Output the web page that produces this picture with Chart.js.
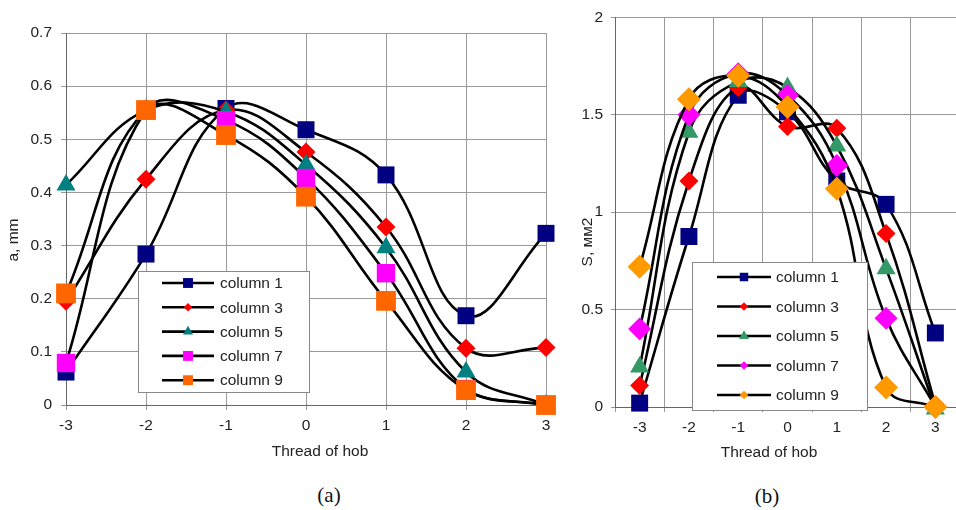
<!DOCTYPE html>
<html>
<head>
<meta charset="utf-8">
<script src="https://cdn.jsdelivr.net/npm/chart.js@4/dist/chart.umd.min.js"></script>
<style>
  body { margin: 0; width: 956px; height: 510px; overflow: hidden; background: #fff; position: relative; }
  canvas { position: absolute; top: 0; }
  #chartA { left: 0; }
  #chartB { left: 560px; }
  .cap { position: absolute; font-family: "Liberation Serif", serif; font-size: 21px; color: #111; transform: translate(-50%, -50%); }
</style>
</head>
<body>
<canvas id="chartA" width="560" height="470"></canvas>
<canvas id="chartB" width="412" height="470"></canvas>
<div class="cap" style="left:329px; top:495px">(a)</div>
<div class="cap" style="left:767px; top:496px">(b)</div>
<script>
// thread positions on the x axis
const threads = [-3, -2, -1, 0, 1, 2, 3];
const seriesNames = ['column 1', 'column 3', 'column 5', 'column 7', 'column 9'];

// (a) a, mm
const aCol1 = [0.062, 0.284, 0.558, 0.518, 0.433, 0.168, 0.323];
const aCol3 = [0.195, 0.425, 0.555, 0.476, 0.335, 0.107, 0.108];
const aCol5 = [0.414, 0.555, 0.552, 0.452, 0.296, 0.062, 0];
const aCol7 = [0.079, 0.555, 0.536, 0.427, 0.248, 0.030, 0];
const aCol9 = [0.210, 0.555, 0.508, 0.392, 0.196, 0.028, 0];

// (b) S, mm2
const bCol1 = [0.02, 0.875, 1.60, 1.515, 1.16, 1.04, 0.38];
const bCol3 = [0.11, 1.16, 1.64, 1.44, 1.43, 0.89, 0.01];
const bCol5 = [0.205, 1.41, 1.67, 1.64, 1.34, 0.71, -0.01];
const bCol7 = [0.40, 1.50, 1.71, 1.60, 1.24, 0.455, 0];
const bCol9 = [0.72, 1.58, 1.70, 1.54, 1.12, 0.10, 0];

const FONT = '"Liberation Sans", Arial, sans-serif';
Chart.defaults.font.family = FONT;
Chart.defaults.font.size = 15.5;
Chart.defaults.color = '#222';

function pts(vals) {
  return threads.map((x, i) => ({ x: x, y: vals[i] }));
}

function marker(ctx, style, x, y, r, color) {
  ctx.fillStyle = color;
  ctx.beginPath();
  if (style === 'rect') {
    const s = r * Math.SQRT1_2;
    ctx.rect(x - s, y - s, 2 * s, 2 * s);
  } else if (style === 'rectRot') {
    ctx.moveTo(x, y - r); ctx.lineTo(x + r, y); ctx.lineTo(x, y + r); ctx.lineTo(x - r, y);
    ctx.closePath();
  } else {
    for (let k = 0; k < 3; k++) {
      const a = k * 2 * Math.PI / 3;
      ctx[k ? 'lineTo' : 'moveTo'](x + Math.sin(a) * r, y - Math.cos(a) * r);
    }
    ctx.closePath();
  }
  ctx.fill();
}

// axis titles + legend box inside the plot
const overlay = {
  id: 'overlay',
  afterDraw(chart, args, o) {
    const ctx = chart.ctx;
    ctx.save();
    ctx.fillStyle = '#222';
    ctx.font = '15.5px ' + FONT;
    ctx.textAlign = 'center';
    ctx.textBaseline = 'middle';
    ctx.fillText(o.xTitle, o.xTitleAt[0], o.xTitleAt[1]);
    ctx.save();
    ctx.translate(o.yTitleAt[0], o.yTitleAt[1]);
    ctx.rotate(-Math.PI / 2);
    ctx.fillText(o.yTitle, 0, 0);
    ctx.restore();

    const L = o.legend;
    ctx.fillStyle = '#fff';
    ctx.fillRect(L.x, L.y, L.w, L.h);
    ctx.strokeStyle = '#888';
    ctx.lineWidth = 1;
    ctx.strokeRect(L.x + 0.5, L.y + 0.5, L.w, L.h);
    ctx.textAlign = 'left';
    chart.data.datasets.forEach((ds, i) => {
      const y = L.row0 + i * L.step;
      ctx.strokeStyle = '#000';
      ctx.lineWidth = 2.6;
      ctx.beginPath();
      ctx.moveTo(L.lineX0, y);
      ctx.lineTo(L.lineX1, y);
      ctx.stroke();
      marker(ctx, ds.pointStyle, (L.lineX0 + L.lineX1) / 2, y, L.sizes[i], ds.pointBackgroundColor);
      ctx.fillStyle = '#222';
      ctx.fillText(ds.label, L.textX, y + 1);
    });
    ctx.restore();
  }
};

function makeSets(cols, colors, styles, radii) {
  return cols.map((c, i) => ({
    label: seriesNames[i],
    data: pts(c),
    borderColor: '#000',
    borderWidth: 2.6,
    tension: 0.4,
    pointStyle: styles[i],
    pointRadius: radii[i],
    pointHoverRadius: radii[i],
    pointBackgroundColor: colors[i],
    pointBorderColor: colors[i],
    pointBorderWidth: 0,
    clip: false,
    order: cols.length - i
  }));
}

// plain number labels: 2, 1.5, 1, 0.5, 0
const plainNum = (v) => String(+v.toFixed(2));

// ---- chart (a)
new Chart(document.getElementById('chartA'), {
  type: 'line',
  data: {
    datasets: makeSets([aCol1, aCol3, aCol5, aCol7, aCol9],
      ['#000080', '#ff0000', '#008080', '#ff00ff', '#ff6600'],
      ['rect', 'rectRot', 'triangle', 'rect', 'rect'],
      [12, 9.5, 11, 13, 14])
  },
  options: {
    responsive: false,
    animation: false,
    layout: { padding: { left: 0, right: 11, top: 33, bottom: 0 } },
    plugins: {
      legend: { display: false },
      tooltip: { enabled: false },
      overlay: {
        xTitle: 'Thread of hob', xTitleAt: [320, 452],
        yTitle: 'a, mm', yTitleAt: [14, 240],
        legend: { x: 138, y: 271, w: 171, h: 121, row0: 283, step: 24.3,
                  lineX0: 162, lineX1: 214, textX: 220, sizes: [7, 4.3, 5.8, 7, 7] }
      }
    },
    scales: {
      x: {
        type: 'linear', min: -3, max: 3,
        ticks: { stepSize: 1, padding: 6 },
        grid: { color: '#999', tickLength: 5 },
        border: { color: '#666' },
        afterFit(s) { s.height = 65; }
      },
      y: {
        min: 0, max: 0.7,
        ticks: { stepSize: 0.1, padding: 9, callback: plainNum },
        grid: { color: '#999', tickLength: 5 },
        border: { color: '#666' },
        afterFit(s) { s.width = 66; }
      }
    }
  },
  plugins: [overlay]
});

// ---- chart (b)
const halfGrid = (c) => {
  const v = c.tick ? c.tick.value : 0;
  return Math.abs(v - Math.round(v)) < 1e-6 ? 'rgba(0,0,0,0)' : '#999';
};

new Chart(document.getElementById('chartB'), {
  type: 'line',
  data: {
    datasets: makeSets([bCol1, bCol3, bCol5, bCol7, bCol9],
      ['#000080', '#ff0000', '#339966', '#ff00ff', '#ff9900'],
      ['rect', 'rectRot', 'triangle', 'rectRot', 'rectRot'],
      [12, 9.5, 11, 11.5, 12])
  },
  options: {
    responsive: false,
    animation: false,
    layout: { padding: { left: 0, right: 10, top: 16, bottom: 0 } },
    plugins: {
      legend: { display: false },
      tooltip: { enabled: false },
      overlay: {
        xTitle: 'Thread of hob', xTitleAt: [209, 453],
        yTitle: 'S, мм2', yTitleAt: [28, 242],
        legend: { x: 132, y: 262, w: 175, h: 148, row0: 277, step: 29.5,
                  lineX0: 157, lineX1: 211, textX: 216, sizes: [6, 4.3, 5.8, 4.3, 4.3] }
      }
    },
    scales: {
      x: {
        type: 'linear', min: -3.5, max: 3.5,
        ticks: {
          stepSize: 0.5, padding: 6, autoSkip: false, maxRotation: 0,
          callback: (v) => Math.abs(v - Math.round(v)) < 1e-6 ? Math.round(v) : ''
        },
        grid: { color: halfGrid, tickLength: 5 },
        border: { color: '#666' },
        afterFit(s) { s.height = 63; }
      },
      y: {
        min: 0, max: 2,
        ticks: { stepSize: 0.5, padding: 8, callback: plainNum },
        grid: { color: '#999', tickLength: 4 },
        border: { color: '#666' },
        afterFit(s) { s.width = 55; }
      }
    }
  },
  plugins: [overlay]
});
</script>
</body>
</html>
